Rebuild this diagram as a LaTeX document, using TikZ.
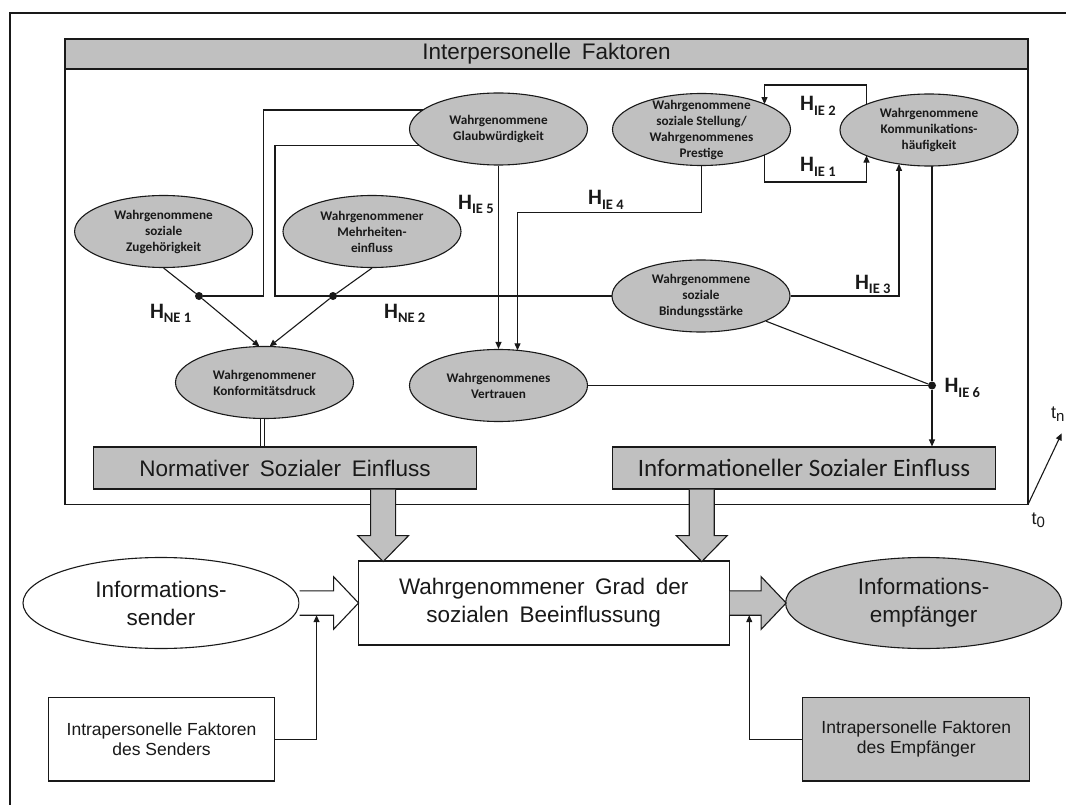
\documentclass[tikz,border=0pt]{standalone}
\usepackage{fontspec}
\setmainfont{Liberation Sans}[WordSpace=1.7]
\newfontfamily\plainsans{Liberation Sans}
\newfontfamily\carl{Carlito}
\usetikzlibrary{calc,arrows.meta,shapes.geometric}

\definecolor{ink}{RGB}{25,25,25}
\definecolor{shade}{RGB}{192,192,192}

% layers: white paper, connectors hidden behind the ellipses, everything else
\pgfdeclarelayer{paper}
\pgfdeclarelayer{lines}
\pgfsetlayers{paper,lines,main}

% hypothesis label H with lowered index, and time labels t with index
\newcommand\Hsub[1]{H\raisebox{-4.5pt}{\fontsize{14.5}{14.5}\selectfont #1}}
\newcommand\tsub[1]{t\raisebox{-3.5pt}{\fontsize{15}{15}\selectfont #1}}

\begin{document}
\begin{tikzpicture}[x=1pt,y=-1pt,
  ell/.style={ellipse,draw=ink,fill=shade,line width=1.1pt,minimum width=178pt,minimum height=72pt,inner sep=0pt},
  etext/.style={font=\carl\bfseries\fontsize{13.2}{16}\selectfont,align=center,inner sep=0pt,text=ink},
  wire/.style={draw=ink,line width=1.1pt},
  arr/.style={wire,-{Triangle[length=7pt,width=6pt]}},
  dbl/.style={draw=ink,line width=0.9pt,double=white,double distance=2.3pt},
  joint/.style={circle,fill=ink,minimum size=8pt,inner sep=0pt},
  hyp/.style={font=\carl\bfseries\fontsize{22}{22}\selectfont,anchor=base west,inner sep=0pt,text=ink},
  band/.style={draw=ink,fill=shade,line width=1.1pt,minimum width=383pt,minimum height=42pt,inner sep=0pt,text=ink},
  bigtext/.style={font=\fontsize{22.5}{28}\selectfont,align=center,text=ink},
  smalltext/.style={font=\plainsans\fontsize{17.5}{20}\selectfont,align=center,text=ink},
  tlabel/.style={font=\fontsize{18}{18}\selectfont,anchor=base west,inner sep=0pt,text=ink},
  pics/dblock/.style={code={\path[pic actions] (-12.5,0) -- (-12.5,46) -- (-25.5,46) -- (0,72) -- (25.5,46) -- (12.5,46) -- (12.5,0);}},
  pics/rblock/.style={code={\path[pic actions] (0,-12.2) -- (#1-25,-12.2) -- (#1-25,-26.3) -- (#1,0) -- (#1-25,26.3) -- (#1-25,12.2) -- (0,12.2);}},
]
\useasboundingbox (0,0) rectangle (1066,805);
\begin{pgfonlayer}{paper}
  \fill[white] (0,0) rectangle (1066,805);
\end{pgfonlayer}

% outer border
\draw[draw=ink,line width=2pt] (9.5,805) |- (1066,13);

% frame of the interpersonal factors with its title bar
\draw[draw=ink,line width=1.1pt] (65,39) rectangle (1028,504.5);
\coordinate (fse) at (1028,504.5);
\node[draw=ink,fill=shade,line width=1.1pt,minimum width=963pt,minimum height=30pt,inner sep=0pt,
      font=\fontsize{22.5}{22.5}\selectfont,text=ink] (hdr) at (546.5,54) {Interpersonelle Faktoren};

% perceived factors
\node[ell] (zug)   at (163.6,231.5) {};
\node[ell] (mehr)  at (372,231.5) {};
\node[ell] (glaub) at (498.5,129) {};
\node[ell] (konf)  at (264.5,382.5) {};
\node[ell] (vert)  at (498.5,385.5) {};
\node[ell] (stel)  at (701.5,129.5) {};
\node[ell] (komm)  at (929,130) {};
\node[ell] (bind)  at (701,296) {};

\node[etext] (zug-t)   at (zug)   {Wahrgenommene\\soziale\\Zugehörigkeit};
\node[etext] (mehr-t)  at (mehr)  {Wahrgenommener\\Mehrheiten-\\einfluss};
\node[etext] (glaub-t) at (glaub) {Wahrgenommene\\Glaubwürdigkeit};
\node[etext] (konf-t)  at (konf)  {Wahrgenommener\\Konformitätsdruck};
\node[etext] (vert-t)  at (vert)  {Wahrgenommenes\\Vertrauen};
\node[etext] (stel-t)  at (stel)  {Wahrgenommene\\soziale Stellung/\\Wahrgenommenes\\Prestige};
\node[etext] (komm-t)  at (komm)  {Wahrgenommene\\Kommunikations-\\häufigkeit};
\node[etext] (bind-t)  at (bind)  {Wahrgenommene\\soziale\\Bindungsstärke};

% moderator joints
\node[joint] (dot1) at (199,296) {};
\node[joint] (dot2) at (333,296) {};
\node[joint] (dot6) at (932,385.5) {};

% influence bands
\node[band,font=\fontsize{22.5}{22.5}\selectfont] (norm) at (285,468) {Normativer Sozialer Einfluss};
\node[band,font=\carl\fontsize{25}{25}\selectfont] (info) at (804,468) {Informationeller Sozialer Einfluss};

% communication chain
\node[draw=ink,fill=white,line width=1.1pt,minimum width=371pt,minimum height=84pt,inner sep=0pt,bigtext] (cen) at (543.7,603)
  {Wahrgenommener Grad der\\sozialen Beeinflussung};
\node[ellipse,draw=ink,fill=white,line width=1.1pt,minimum width=276pt,minimum height=91pt,inner sep=0pt,bigtext] (send) at (161,603)
  {Informations-\\sender};
\node[ellipse,draw=ink,fill=shade,line width=1.1pt,minimum width=276pt,minimum height=91pt,inner sep=0pt,bigtext] (emp) at (923.6,603)
  {Informations-\\empfänger};
\node[draw=ink,fill=white,line width=1.1pt,minimum width=226.6pt,minimum height=83.3pt,inner sep=0pt,smalltext] (sbox) at (161.5,739.3)
  {Intrapersonelle Faktoren\\des Senders};
\node[draw=ink,fill=shade,line width=1.1pt,minimum width=227pt,minimum height=83.3pt,inner sep=0pt,smalltext] (ebox) at (916.3,739.3)
  {Intrapersonelle Faktoren\\des Empfänger};

% bends of the connectors
\coordinate (k1) at (263.5,110);
\coordinate (k2) at (275,145.5);
\coordinate (k6) at (517.5,212.5);
\coordinate (k7) at (764.5,85);
\coordinate (k8) at (866.5,182);

% credibility feeding the two moderator joints
\begin{pgfonlayer}{lines}
  \draw[wire] (glaub.center |- k1) -- (k1) |- (dot1);
  \draw[wire] (glaub.center |- k2) -- (k2) |- (bind.center);
\end{pgfonlayer}

% normative path
\draw[arr] (zug.south) -- (dot1) -- ($(konf.center)+(-5,-36)$);
\draw[arr] (mehr.south) -- (dot2) -- ($(konf.center)+(5,-36)$);
\draw[dbl] ($(konf.south)+(-2,0)$) coordinate (dtop) -- (dtop |- norm.north);

% informational path
\draw[arr] (glaub.south) -- (vert.north);
\draw[arr] (stel.south) |- (k6) -- ($(vert.center)+(19,-35.2)$);
\draw[arr] ($(komm.center)+(-62.5,-25.6)$) |- (k7) -- ($(stel.center)+(63,-25.4)$);
\draw[arr] ($(stel.center)+(63,25.4)$) |- (k8) -- ($(komm.center)+(-62.5,25.6)$);
\draw[arr] (bind.east) -| ($(komm.center)+(-30,33.9)$);
\draw[arr] ($(komm.center)+(3,36)$) -- (dot6) -- (dot6 |- info.north);
\draw[wire] (bind) -- (dot6);
\draw[wire] (vert.east) -- (dot6);

% hypotheses
\node[hyp] (hne1) at (149.8,318.3) {\Hsub{NE 1}};
\node[hyp] (hne2) at (384,318.3)   {\Hsub{NE 2}};
\node[hyp] (hie5) at (458,209.3)   {\Hsub{IE 5}};
\node[hyp] (hie4) at (588,205)     {\Hsub{IE 4}};
\node[hyp] (hie2) at (800,111)     {\Hsub{IE 2}};
\node[hyp] (hie1) at (800,171.6)   {\Hsub{IE 1}};
\node[hyp] (hie3) at (854.8,289.3) {\Hsub{IE 3}};
\node[hyp] (hie6) at (944.4,392.6) {\Hsub{IE 6}};

% block arrows
\pic[draw=ink,fill=shade,line width=1.1pt] at ($(norm.south -| cen.west)+(25.5,0)$) {dblock};
\pic[draw=ink,fill=shade,line width=1.1pt] at ($(info.south -| cen.east)+(-28,0)$) {dblock};
\pic[draw=ink,fill=white,line width=1.1pt] at (send.east) {rblock=59};
\pic[draw=ink,fill=shade,line width=1.1pt] at (cen.east) {rblock=56.4};

% intrapersonal factors
\draw[arr] (sbox.east) -| ($(send.east)+(17,12.2)$);
\draw[arr] (ebox.west) -| ($(cen.east)+(19.5,12.2)$);

% time axis
\coordinate (tn) at (1061.7,433.3);
\draw[arr] (fse) -- (tn);
\node[tlabel] (tnl) at (1051,418.3) {\tsub{n}};
\node[tlabel] (t0l) at (1031.5,524) {\tsub{0}};
\end{tikzpicture}
\end{document}
